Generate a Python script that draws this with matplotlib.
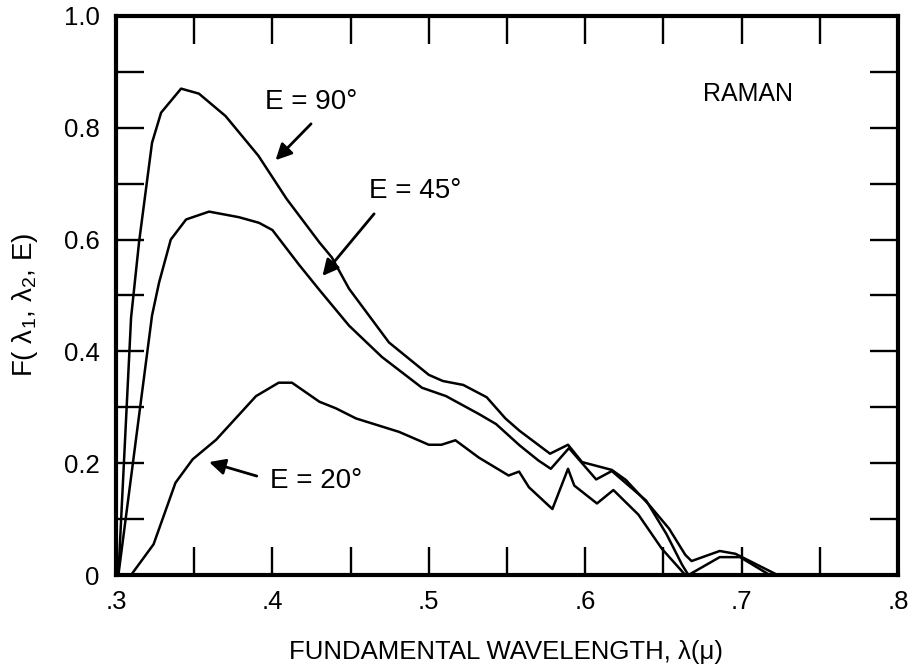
import matplotlib
matplotlib.use("Agg")
import matplotlib.pyplot as plt
import numpy as np

plt.rcParams['font.family'] = ['Liberation Sans', 'DejaVu Sans']
plt.rcParams['mathtext.fontset'] = 'custom'
plt.rcParams['mathtext.rm'] = 'Liberation Sans'
plt.rcParams['mathtext.it'] = 'Liberation Sans'

# Data
e90_x = [0.3015, 0.3096, 0.3147, 0.323, 0.3288, 0.3416, 0.353, 0.370, 0.391, 0.409, 0.430, 0.438,
         0.449, 0.4745, 0.500, 0.509, 0.522, 0.537, 0.549, 0.558, 0.5775, 0.589, 0.598, 0.617,
         0.626, 0.641, 0.6536, 0.664, 0.668, 0.686, 0.696, 0.723]
e90_y = [0.0, 0.46, 0.595, 0.773, 0.827, 0.87, 0.861, 0.821, 0.75, 0.673, 0.595, 0.568,
         0.512, 0.416, 0.358, 0.347, 0.34, 0.318, 0.28, 0.258, 0.217, 0.233, 0.202, 0.188,
         0.17, 0.125, 0.083, 0.036, 0.025, 0.043, 0.038, 0.0]

e45_x = [0.3015, 0.323, 0.3275, 0.335, 0.3448, 0.3595, 0.3786, 0.3914, 0.400, 0.417, 0.430,
         0.449, 0.470, 0.4956, 0.511, 0.532, 0.543, 0.558, 0.570, 0.578, 0.5896, 0.607, 0.617,
         0.639, 0.652, 0.662, 0.666, 0.686, 0.699, 0.718]
e45_y = [0.0, 0.464, 0.523, 0.60, 0.636, 0.65, 0.64, 0.63, 0.617, 0.555, 0.51,
         0.446, 0.39, 0.335, 0.320, 0.288, 0.27, 0.232, 0.205, 0.19, 0.227, 0.171, 0.186,
         0.133, 0.073, 0.018, 0.0, 0.032, 0.032, 0.0]

e20_x = [0.3096, 0.324, 0.338, 0.349, 0.364, 0.3895, 0.404, 0.4125, 0.430, 0.4407, 0.4535,
         0.481, 0.500, 0.508, 0.517, 0.532, 0.551, 0.5577, 0.564, 0.579, 0.589, 0.593, 0.6075,
         0.618, 0.634, 0.649, 0.664]
e20_y = [0.0, 0.055, 0.165, 0.207, 0.242, 0.32, 0.344, 0.344, 0.31, 0.298, 0.28,
         0.256, 0.233, 0.233, 0.241, 0.21, 0.178, 0.185, 0.157, 0.118, 0.19, 0.16, 0.128,
         0.152, 0.108, 0.047, 0.0]

x_ticks = [0.3, 0.35, 0.4, 0.45, 0.5, 0.55, 0.6, 0.65, 0.7, 0.75, 0.8]
x_labels = ['.3', '', '.4', '', '.5', '', '.6', '', '.7', '', '.8']
y_ticks = [0.0, 0.1, 0.2, 0.3, 0.4, 0.5, 0.6, 0.7, 0.8, 0.9, 1.0]
y_labels = ['0', '', '0.2', '', '0.4', '', '0.6', '', '0.8', '', '1.0']

fig = plt.figure(figsize=(9.08, 6.64), dpi=100)
ax = fig.add_axes([0.1278, 0.134, 0.8612, 0.842])

lw = 1.8
ax.plot(e90_x, e90_y, color='black', lw=lw)
ax.plot(e45_x, e45_y, color='black', lw=lw)
ax.plot(e20_x, e20_y, color='black', lw=lw)

ax.set_xlim(0.3, 0.8)
ax.set_ylim(0, 1.0)
ax.set_xticks(x_ticks)
ax.set_xticklabels(x_labels)
ax.set_yticks(y_ticks)
ax.set_yticklabels(y_labels)
ax.tick_params(axis='both', direction='in', length=20, width=1.7, labelsize=18.5,
               top=True, right=True, color='black')
ax.tick_params(axis='x', pad=11)
ax.tick_params(axis='y', pad=12)
for s in ax.spines.values():
    s.set_linewidth(3)

fig.text(506 / 908, 1 - 652 / 664, 'FUNDAMENTAL WAVELENGTH, λ(μ)', fontsize=18.5,
         ha='center', va='center')
fig.text(25 / 908, 1 - 305 / 664, 'F( λ$_1$, λ$_2$, E)', fontsize=20, rotation=90,
         ha='center', va='center')

arrow = dict(arrowstyle='-|>', color='black', lw=2.0, mutation_scale=24, shrinkA=0, shrinkB=0)
ax.annotate('', xy=(0.402, 0.742), xytext=(0.4247, 0.807), arrowprops=arrow)
ax.text(0.4247, 0.846, 'E = 90°', fontsize=20, ha='center', va='center')
ax.annotate('', xy=(0.432, 0.535), xytext=(0.465, 0.646), arrowprops=arrow)
ax.text(0.491, 0.686, 'E = 45°', fontsize=20, ha='center', va='center')
ax.annotate('', xy=(0.3595, 0.202), xytext=(0.390, 0.177), arrowprops=arrow)
ax.text(0.4279, 0.168, 'E = 20°', fontsize=20, ha='center', va='center')
ax.text(0.704, 0.86, 'RAMAN', fontsize=18, ha='center', va='center')

fig.savefig('out.png', dpi=100)
